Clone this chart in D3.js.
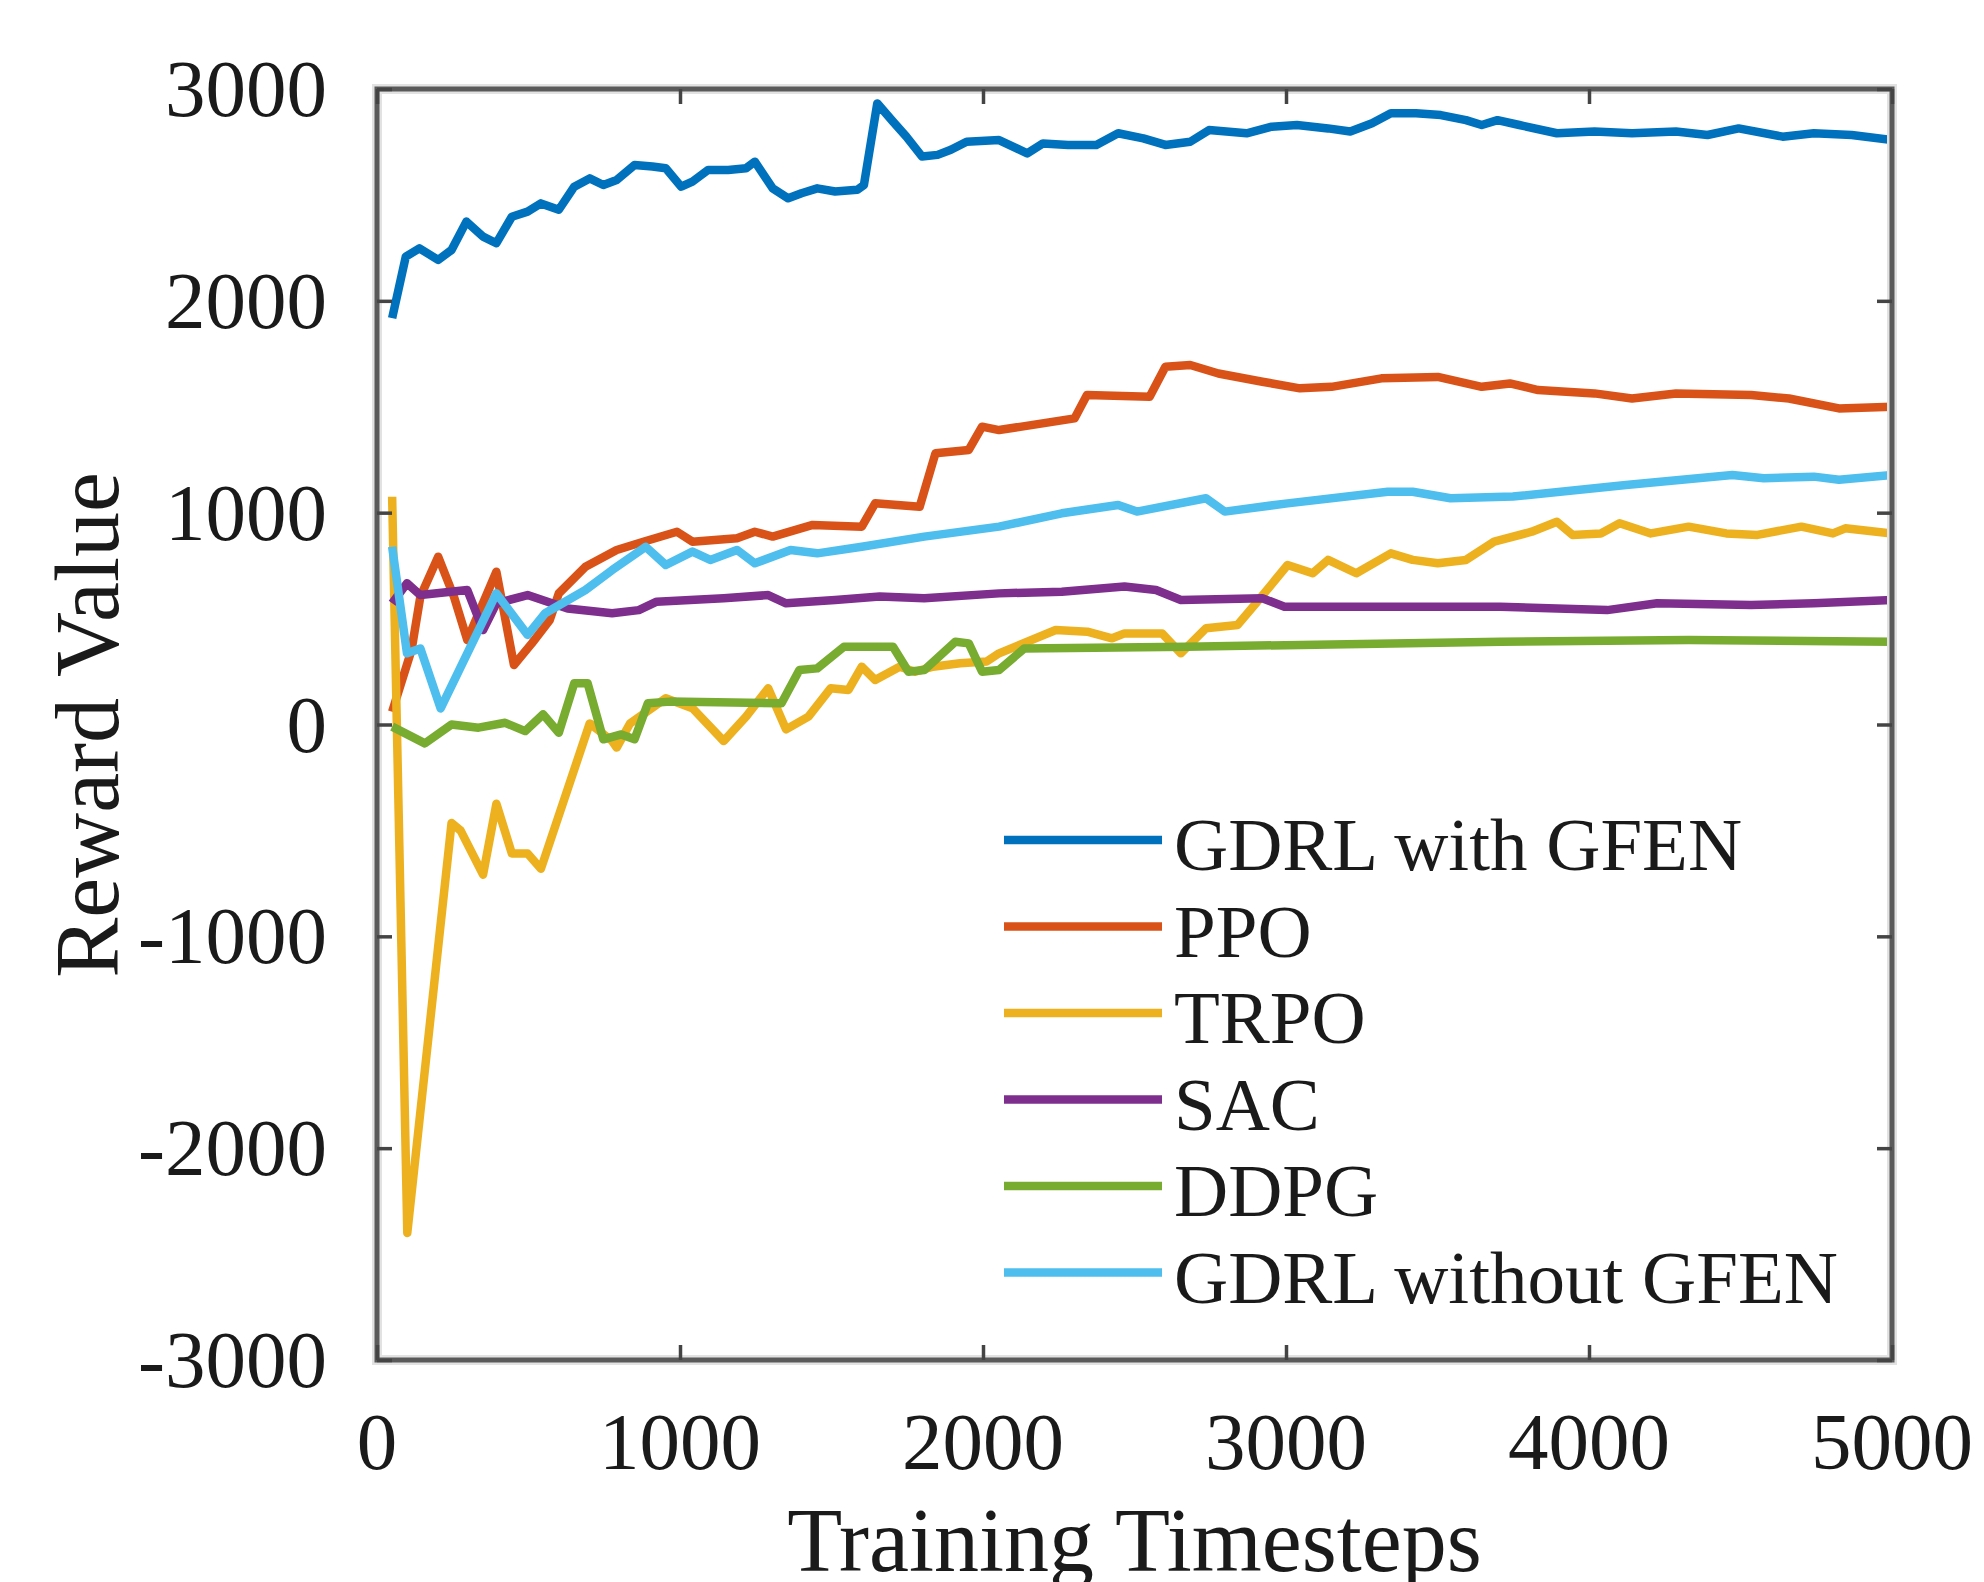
<!DOCTYPE html>
<html>
<head>
<meta charset="utf-8">
<script src="https://cdn.jsdelivr.net/npm/d3@7"></script>
<style>
	body { margin: 0; background: #fff; }
	svg text { font-family: "Liberation Serif", "Times New Roman", serif; fill: #1a1a1a; }
</style>
</head>
<body>
<svg id="chart" width="1984" height="1582"></svg>
<script>
// values: [timestep, reward]
const gdrlWith = [[50,1918],[95,2209],[140,2248],[202,2193],[246,2240],[295,2374],[350,2303],[394,2272],[445,2397],[497,2421],[541,2460],[600,2430],[651,2539],[702,2578],[747,2547],[791,2570],[850,2641],[909,2634],[953,2626],[1004,2539],[1041,2563],[1093,2618],[1159,2618],[1218,2626],[1247,2657],[1306,2531],[1357,2484],[1401,2508],[1453,2531],[1512,2516],[1585,2524],[1607,2547],[1651,2932],[1703,2846],[1747,2775],[1799,2681],[1850,2689],[1894,2713],[1946,2751],[2053,2759],[2146,2696],[2198,2743],[2281,2736],[2374,2736],[2446,2791],[2529,2767],[2602,2736],[2684,2751],[2746,2806],[2870,2791],[2953,2822],[3036,2830],[3139,2814],[3212,2799],[3284,2838],[3346,2885],[3429,2885],[3511,2877],[3594,2853],[3646,2830],[3698,2853],[3770,2830],[3894,2791],[4018,2799],[4142,2791],[4287,2799],[4391,2783],[4494,2814],[4639,2775],[4742,2791],[4867,2783],[5000,2759]]

const ppo = [[50,60],[114,352],[143,603],[202,792],[254,603],[298,399],[394,721],[452,281],[511,383],[570,493],[600,619],[688,745],[791,824],[879,863],[990,910],[1041,863],[1188,879],[1247,910],[1306,887],[1438,942],[1600,934],[1644,1044],[1791,1028],[1843,1280],[1953,1296],[1997,1406],[2053,1390],[2302,1445],[2343,1555],[2550,1547],[2602,1689],[2684,1697],[2777,1657],[2922,1618],[3046,1587],[3150,1594],[3315,1634],[3501,1641],[3646,1594],[3739,1610],[3832,1579],[4018,1563],[4142,1539],[4287,1563],[4535,1555],[4660,1539],[4825,1492],[5000,1500]]

const trpo = [[50,1075],[100,-2400],[246,-465],[276,-501],[350,-709],[394,-374],[445,-609],[497,-609],[541,-681],[702,5],[776,-78],[791,-109],[835,5],[953,124],[1041,77],[1144,-78],[1218,37],[1291,171],[1350,-23],[1424,37],[1497,171],[1556,163],[1600,273],[1644,210],[1725,273],[1776,249],[1835,273],[1924,289],[2012,297],[2053,336],[2240,446],[2344,438],[2426,407],[2467,430],[2591,430],[2653,336],[2736,454],[2840,470],[2901,572],[3005,753],[3088,714],[3139,777],[3232,714],[3346,808],[3418,777],[3501,761],[3594,777],[3687,863],[3811,910],[3894,957],[3946,895],[4039,902],[4101,950],[4204,902],[4329,934],[4453,902],[4556,895],[4701,934],[4805,902],[4846,926],[5000,902]]

const sac = [[50,572],[99,667],[143,611],[298,635],[350,446],[394,572],[497,611],[629,548],[776,525],[864,540],[923,580],[1144,596],[1291,611],[1350,572],[1512,588],[1659,604],[1806,596],[2053,619],[2260,627],[2467,651],[2571,635],[2653,588],[2922,596],[2995,556],[3294,556],[3708,556],[4060,540],[4225,572],[4535,564],[4742,572],[5000,588]]

const ddpg = [[50,-10],[158,-89],[246,0],[335,-15],[423,8],[489,-31],[548,48],[600,-39],[651,195],[695,195],[747,-70],[806,-47],[850,-70],[894,100],[967,108],[1335,100],[1394,257],[1453,265],[1541,367],[1703,367],[1754,249],[1806,257],[1909,391],[1953,383],[1997,249],[2053,257],[2136,359],[2672,367],[3708,391],[4329,399],[5000,391]]

const gdrlWithout = [[50,839],[99,336],[143,359],[210,76],[394,619],[497,423],[555,525],[688,635],[776,729],[887,839],[953,753],[1041,816],[1100,777],[1188,824],[1247,761],[1365,824],[1453,808],[1600,839],[1806,887],[2053,934],[2260,997],[2446,1036],[2508,1005],[2736,1068],[2798,1005],[3005,1044],[3336,1099],[3418,1099],[3543,1068],[3749,1076],[4122,1131],[4473,1178],[4577,1162],[4742,1170],[4825,1155],[5000,1178]]

const seriesNames = ['GDRL with GFEN', 'PPO', 'TRPO', 'SAC', 'DDPG', 'GDRL without GFEN']
const seriesData = [gdrlWith, ppo, trpo, sac, ddpg, gdrlWithout]
const seriesColors = ['#0072BD', '#D95319', '#EDB120', '#7E2F8E', '#77AC30', '#4DBEEE']

const xTicks = [0, 1000, 2000, 3000, 4000, 5000]
const yTicks = [-3000, -2000, -1000, 0, 1000, 2000, 3000]

const plot = {left: 377, right: 1892, top: 89, bottom: 1360}

let svg = d3.select('#chart')

let x = d3.scaleLinear().domain([0, 5000]).range([plot.left, plot.right])
let y = d3.scaleLinear().domain([-3000, 3000]).range([plot.bottom, plot.top])

// lines, clipped to the axes box
svg.append('clipPath').attr('id', 'clip')
	.append('rect')
	.attr('x', plot.left).attr('y', plot.top)
	.attr('width', plot.right - plot.left).attr('height', plot.bottom - plot.top)

let line = d3.line().x((d) => x(d[0])).y((d) => y(d[1]))

svg.append('g').attr('clip-path', 'url(#clip)')
	.selectAll('path.series')
	.data(seriesData)
	.enter().append('path')
	.attr('class', 'series')
	.attr('d', line)
	.attr('fill', 'none')
	.attr('stroke', (d, i) => seriesColors[i])
	.attr('stroke-width', 8.5)
	.attr('stroke-linejoin', 'round')

// axes box with inward ticks on all four sides
let frame = svg.append('g')
frame.append('rect')
	.attr('x', plot.left).attr('y', plot.top)
	.attr('width', plot.right - plot.left).attr('height', plot.bottom - plot.top)
	.attr('fill', 'none').attr('stroke', '#e2e2e2').attr('stroke-width', 10)
frame.append('rect')
	.attr('x', plot.left).attr('y', plot.top)
	.attr('width', plot.right - plot.left).attr('height', plot.bottom - plot.top)
	.attr('fill', 'none').attr('stroke', '#5a5a5a').attr('stroke-width', 5)

let tickLen = 15

svg.append('g')
	.attr('transform', `translate(0,${plot.bottom})`)
	.call(d3.axisBottom(x).tickValues(xTicks).tickSizeInner(-tickLen).tickSizeOuter(0).tickFormat(''))
svg.append('g')
	.attr('transform', `translate(0,${plot.top})`)
	.call(d3.axisTop(x).tickValues(xTicks).tickSizeInner(-tickLen).tickSizeOuter(0).tickFormat(''))
svg.append('g')
	.attr('transform', `translate(${plot.left},0)`)
	.call(d3.axisLeft(y).tickValues(yTicks).tickSizeInner(-tickLen).tickSizeOuter(0).tickFormat(''))
svg.append('g')
	.attr('transform', `translate(${plot.right},0)`)
	.call(d3.axisRight(y).tickValues(yTicks).tickSizeInner(-tickLen).tickSizeOuter(0).tickFormat(''))

svg.selectAll('.domain').remove()
svg.selectAll('.tick line').attr('stroke', '#444').attr('stroke-width', 3.5)

// tick labels
svg.append('g').selectAll('text')
	.data(xTicks)
	.enter().append('text')
	.attr('x', (d) => x(d))
	.attr('y', 1469)
	.attr('text-anchor', 'middle')
	.attr('font-size', 81)
	.text((d) => d)

svg.append('g').selectAll('text')
	.data(yTicks)
	.enter().append('text')
	.attr('x', 327)
	.attr('y', (d) => y(d) + 27)
	.attr('text-anchor', 'end')
	.attr('font-size', 81)
	.text((d) => d)

// axis titles (bottom one runs off the page edge, as in the original)
svg.append('text')
	.attr('x', (plot.left + plot.right) / 2)
	.attr('y', 1571)
	.attr('text-anchor', 'middle')
	.attr('font-size', 90)
	.text('Training Timesteps')

svg.append('text')
	.attr('transform', `translate(118,725) rotate(-90)`)
	.attr('text-anchor', 'middle')
	.attr('font-size', 90)
	.text('Reward Value')

// legend
let legend = svg.append('g').attr('transform', 'translate(1004,840)')
let rows = legend.selectAll('g')
	.data(seriesNames)
	.enter().append('g')
	.attr('transform', (d, i) => `translate(0,${i * 86.5})`)

rows.append('line')
	.attr('x1', 0).attr('x2', 158)
	.attr('y1', 0).attr('y2', 0)
	.attr('stroke', (d, i) => seriesColors[i])
	.attr('stroke-width', 8.5)

rows.append('text')
	.attr('x', 170)
	.attr('y', 30)
	.attr('font-size', 75)
	.text((d) => d)
</script>
</body>
</html>
